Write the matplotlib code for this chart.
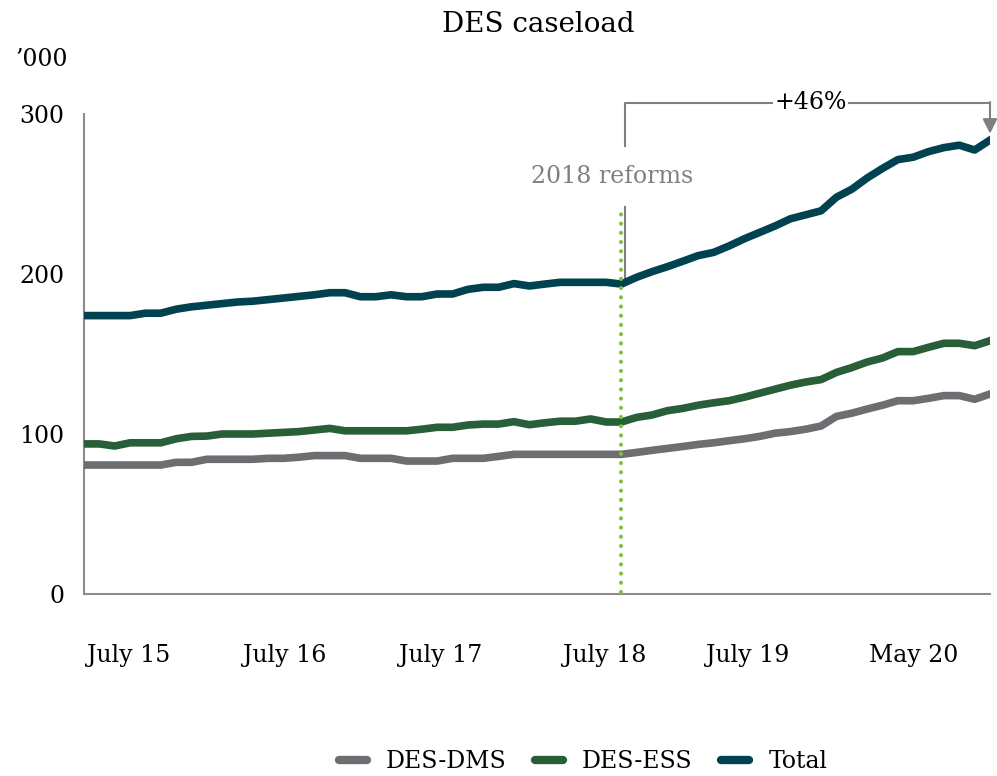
import numpy as np
import matplotlib.pyplot as plt

# Monthly DES caseload ('000), one value per month
DMS = [80.6, 80.6, 80.6, 80.6, 80.6, 80.6, 82.3, 82.3, 84.2, 84.2,
       84.2, 84.2, 84.8, 84.8, 85.5, 86.5, 86.5, 86.5, 84.8, 84.8,
       84.8, 83.1, 83.1, 83.1, 84.8, 84.8, 84.8, 86.0, 87.3, 87.3,
       87.3, 87.3, 87.3, 87.3, 87.3, 87.3, 88.5, 89.8, 91.0, 92.2,
       93.5, 94.5, 95.8, 97.0, 98.5, 100.5, 101.5, 103.0, 105.0, 111.0,
       113.0, 115.6, 118.0, 120.8, 120.8, 122.3, 124.0, 124.0, 121.7, 125.0]
ESS = [93.8, 93.8, 92.5, 94.5, 94.5, 94.5, 97.0, 98.5, 98.7, 100.0,
       100.0, 100.0, 100.5, 101.0, 101.5, 102.5, 103.5, 102.0, 102.0, 102.0,
       102.0, 102.0, 103.0, 104.2, 104.2, 105.6, 106.2, 106.2, 107.7, 105.8,
       107.0, 108.0, 108.0, 109.4, 107.5, 107.5, 110.4, 111.9, 114.6, 116.0,
       118.0, 119.5, 120.8, 123.0, 125.5, 128.0, 130.5, 132.5, 134.0, 138.5,
       141.5, 145.0, 147.5, 151.5, 151.5, 154.2, 156.7, 156.7, 155.2, 158.3]
TOTAL = [174.0, 174.0, 174.0, 174.0, 175.5, 175.5, 178.0, 179.5, 180.5, 181.5,
         182.5, 183.0, 184.0, 185.0, 186.0, 187.0, 188.3, 188.3, 185.8, 185.8,
         187.0, 185.8, 185.8, 187.5, 187.5, 190.4, 191.7, 191.7, 194.0, 192.5,
         193.7, 194.8, 194.8, 194.8, 194.8, 193.7, 198.0, 201.5, 204.6, 208.0,
         211.5, 213.5, 217.5, 222.0, 226.0, 230.0, 234.5, 237.0, 239.5, 248.0,
         253.0, 260.0, 266.0, 271.5, 273.0, 276.5, 279.0, 280.5, 277.5, 283.7]

XTICK_POS = [2.9, 13.1, 23.25, 33.9, 43.2, 54.05]
XTICK_LABELS = ['July 15', 'July 16', 'July 17', 'July 18', 'July 19', 'May 20']
REFORM_IDX = 35

C_DMS = '#6d6e71'
C_ESS = '#285e38'
C_TOTAL = '#00424f'
C_REFORM = '#7dc242'
C_ANNOT = '#808080'

plt.rcParams['font.family'] = ['DejaVu Serif']

fig = plt.figure(figsize=(9.97, 7.76), dpi=100)
ax = fig.add_axes([84 / 997, 182 / 776, 906 / 997, 480 / 776])

x = np.arange(len(TOTAL))
ax.plot(x, DMS, color=C_DMS, lw=5.5, solid_joinstyle='round', label='DES-DMS', zorder=3)
ax.plot(x, ESS, color=C_ESS, lw=5.5, solid_joinstyle='round', label='DES-ESS', zorder=3)
ax.plot(x, TOTAL, color=C_TOTAL, lw=5.5, solid_joinstyle='round', label='Total', zorder=3)

ax.set_xlim(0, len(TOTAL) - 1)
ax.set_ylim(0, 300)

# reform marker
ax.plot([REFORM_IDX, REFORM_IDX], [1, 240], color=C_REFORM, lw=3,
        linestyle=(0, (0.01, 2.2)), dash_capstyle='round', zorder=4)

# +46% bracket from the reform point to the latest month
bx = REFORM_IDX + 0.25
top = 307
ax.plot([bx, bx], [196, 242], color=C_ANNOT, lw=1.5, zorder=2, clip_on=False)
ax.plot([bx, bx, len(TOTAL) - 1], [280, top, top], color=C_ANNOT, lw=1.5,
        zorder=2, clip_on=False)
ax.annotate('', xy=(len(TOTAL) - 1, TOTAL[-1] + 4), xytext=(len(TOTAL) - 1, top + 0.5),
            arrowprops=dict(arrowstyle='-|>', color=C_ANNOT, lw=1.5,
                            mutation_scale=22, shrinkA=0, shrinkB=0),
            annotation_clip=False)
pct = round((TOTAL[-1] / TOTAL[REFORM_IDX] - 1) * 100)
ax.text(47.3, top, f'+{pct}%', ha='center', va='center', fontsize=17,
        bbox=dict(facecolor='white', edgecolor='none', pad=1), clip_on=False)
ax.text(REFORM_IDX - 0.6, 261, '2018 reforms', ha='center', va='center',
        fontsize=17, color=C_ANNOT)

for s in ['top', 'right']:
    ax.spines[s].set_visible(False)
for s in ['left', 'bottom']:
    ax.spines[s].set_color('#8c8c8c')
    ax.spines[s].set_linewidth(1.5)

ax.set_yticks([0, 100, 200, 300])
ax.tick_params(axis='y', length=0, pad=14, labelsize=17)
ax.set_xticks(XTICK_POS, XTICK_LABELS)
ax.tick_params(axis='x', length=0, pad=36, labelsize=17)

fig.text(0.54, 1 - 25 / 776, 'DES caseload', ha='center', va='center', fontsize=20)
fig.text(15 / 997, 1 - 60 / 776, '\u2019000', ha='left', va='center', fontsize=17)

fig.legend(loc='center', bbox_to_anchor=(583 / 997, 1 - 762 / 776), ncol=3,
           frameon=False, fontsize=17, handlelength=1.2, handletextpad=0.8,
           columnspacing=1.2)
for line in fig.legends[0].get_lines():
    line.set_linewidth(6)
    line.set_solid_capstyle('round')

fig.savefig('out.png', dpi=100)
